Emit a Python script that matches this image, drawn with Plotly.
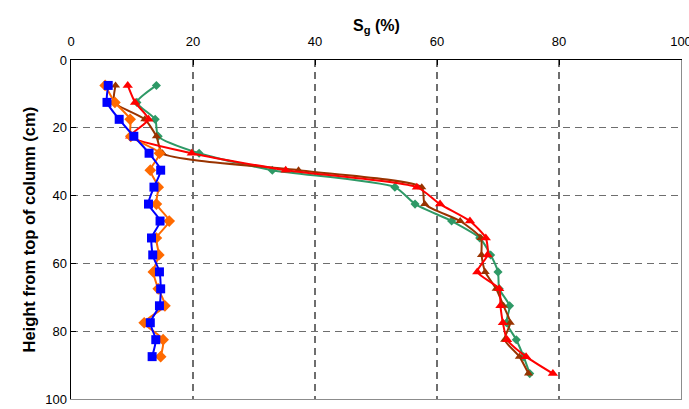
import plotly.graph_objects as go

depth = [7.5, 12.5, 17.5, 22.5, 27.5, 32.5, 37.5, 42.5, 47.5, 52.5,
         57.5, 62.5, 67.5, 72.5, 77.5, 82.5, 87.5, 92.5]

sg_blue = [6.1, 5.9, 7.9, 10.3, 12.8, 14.7, 13.6, 12.7, 14.6, 13.2,
           13.4, 14.5, 14.7, 14.5, 13.0, 13.9, 13.3]
sg_orange = [5.6, 7.2, 9.7, 9.8, 14.5, 13.0, 14.3, 14.0, 16.1, 14.0,
             14.4, 13.5, 14.3, 15.4, 12.0, 15.1, 14.7]
sg_brown = [7.3, 7.1, 12.1, 14.0, 15.0, 37.3, 57.5, 58.0, 63.8, 67.2,
            67.3, 67.9, 69.7, 70.9, 72.0, 71.1, 73.5, 75.0]
sg_red = [9.3, 10.5, 12.7, 9.7, 19.8, 35.2, 56.7, 60.5, 65.4, 68.0,
          68.3, 66.6, 70.2, 70.4, 70.8, 71.5, 74.6, 79.0]
sg_green = [14.0, 10.8, 13.8, 14.3, 21.0, 33.0, 53.1, 56.4, 62.4, 67.0,
            68.8, 70.0, 70.2, 71.9, 71.4, 73.0, 74.2, 75.2]

x_ticks = [0, 20, 40, 60, 80, 100]
y_ticks = [0, 20, 40, 60, 80, 100]

x_title = "<b>S<sub>g</sub> (%)</b>"
y_title = "<b>Height from top of column (cm)</b>"

# (name, values, colour, marker, size, axes)
series = [
    ("green", sg_green, "#2E9966", "diamond", 7, ("x", "y")),
    ("brown", sg_brown, "#993300", "triangle-up", 8, ("x", "y")),
    ("red", sg_red, "#FF0000", "triangle-up", 9, ("x", "y")),
    ("orange", sg_orange, "#FF6A00", "diamond", 9, ("x", "y")),
    ("blue", sg_blue, "#0000FF", "square", 9, ("x2", "y2")),
]

FONT = "Liberation Sans, Arial"
GRID_COL = "#6e6e6e"
DASH = "7px,5px"

fig = go.Figure()
for name, xs, col, sym, sz, (xa, ya) in series:
    fig.add_trace(go.Scatter(
        x=xs, y=depth[:len(xs)], mode="lines+markers", name=name,
        xaxis=xa, yaxis=ya,
        line=dict(color=col, width=2, shape="spline", smoothing=0.6),
        marker=dict(color=col, symbol=sym, size=sz),
        showlegend=False, hoverinfo="skip",
    ))

grid = dict(showgrid=True, gridcolor=GRID_COL, gridwidth=1.3, griddash=DASH)

fig.update_layout(
    xaxis=dict(
        side="top", range=[0, 100], tickvals=x_ticks, ticktext=[str(v) for v in x_ticks],
        showline=True, linecolor="black", linewidth=1.5, ticks="inside", ticklen=5,
        tickcolor="black", zeroline=False, automargin=False, ticklabelstandoff=7,
        ticklabeloverflow="allow",
        tickfont=dict(family=FONT, size=13, color="black"),
        **grid,
    ),
    yaxis=dict(
        range=[100, 0], tickvals=y_ticks, ticktext=[str(v) for v in y_ticks],
        showline=True, linecolor="black", linewidth=1.5, ticks="inside", ticklen=5,
        tickcolor="black", zeroline=False, automargin=False,
        ticklabeloverflow="allow",
        tickfont=dict(family=FONT, size=13, color="black"),
        **grid,
    ),
    # mirror axes with identical scales: their grey lines form the right and bottom frame
    xaxis2=dict(
        overlaying="x", side="bottom", range=[0, 100], showline=True,
        linecolor="#8c8c8c", linewidth=1.3, showgrid=False, zeroline=False,
        showticklabels=False, ticks="", automargin=False,
    ),
    yaxis2=dict(
        overlaying="y", side="right", range=[100, 0], showline=True,
        linecolor="#8c8c8c", linewidth=1.3, showgrid=False, zeroline=False,
        showticklabels=False, ticks="", automargin=False,
    ),
)

fig.add_annotation(text=x_title, xref="paper", yref="paper", x=0.5, y=1,
                   yshift=45, showarrow=False,
                   font=dict(family=FONT, size=16, color="black"))
fig.add_annotation(text=y_title, xref="paper", yref="paper", x=0, y=0.5,
                   xshift=-54, textangle=-90, showarrow=False,
                   font=dict(family=FONT, size=16.5, color="black"))

fig.update_layout(
    width=689, height=409,
    margin=dict(l=71, r=8, t=60, b=10),
    paper_bgcolor="white", plot_bgcolor="white",
    font=dict(family=FONT),
    hovermode=False,
)

fig.write_html("out.html", config={"displayModeBar": False, "staticPlot": True},
               post_script="document.body.style.margin='0';document.body.style.overflow='hidden';")
